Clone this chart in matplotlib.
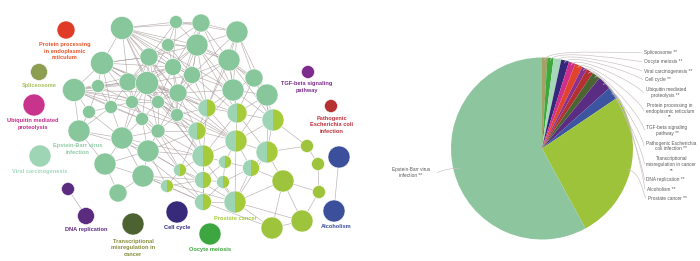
import matplotlib
matplotlib.use("Agg")
import matplotlib.pyplot as plt
from matplotlib.patches import Circle, Wedge
from matplotlib.path import Path
from matplotlib.patches import PathPatch
import numpy as np

# ---------------- network data (pixel positions) ----------------
node_x = [122,176,201,237,168,197,149,229,102,173,192,254,74,98,128,147,233,267,178,132,158,111,89,177,142,79,122,158,105,148,143,118,
          207,237,273,197,236,203,267,180,225,251,203,223,167,203,235,
          307,318,283,319,302,272,
          66,39,34,40,308,331,68,86,133,177,210,339,334]
node_y = [28,22,23,32,45,45,57,60,63,67,75,78,90,86,82,83,90,95,93,102,102,107,112,115,119,131,138,131,164,151,176,193,
          108,113,120,131,141,156,152,170,162,168,180,182,186,202,202,
          146,164,181,192,221,228,
          30,72,105,156,72,106,189,216,224,212,234,157,211]
node_r = [11.5,6.5,9,11,6.5,11,9,11,11.5,8.5,8.5,9,11.5,6.5,9,11.5,11,11,9,6.5,6.5,6.5,6.5,6.5,6.5,11,11,7,11,11,11,9,
          9,10,11,9,11,11,11,6.5,6.5,8.5,8.5,6.5,6.5,8.5,11,
          6.5,6.5,11,6.5,11,11,
          9,8.5,11,11,6.5,6.5,6.5,8.5,11,11,11,11,11]
node_kind = ['ebv']*32 + ['half']*15 + ['prostate']*6 + ['protein','splice','ubiq','viral','tgf','patho','dna','dna','transc','cell','oocyte','alco','alco']

adjacency = {
    0: [1,2,4,5,6,8,9,10,14,15,18,7,16,20,23],
    1: [2,4,5,3,6,9],
    2: [3,5,4,9,7,10,18,16],
    3: [5,7,10,11,16,17,32],
    4: [5,6,9,15,10,14],
    5: [6,7,9,10,15,18,16,11,32,33],
    6: [8,9,14,15,18,19,20,10,23],
    7: [10,11,16,17,18,32,33,34],
    8: [12,13,14,15,19,21,6,9,18,32,20],
    9: [10,14,15,18,20,23,32],
    10: [15,16,18,20,23,32,33],
    11: [16,17,33,34],
    12: [13,14,15,19,21,22,25,20,18,24,35,9],
    13: [14,21,22,35,15],
    14: [15,19,20,21,24,18,36,23],
    15: [18,19,20,23,24,26,27,36,46,32],
    16: [17,18,32,33,34,35],
    17: [33,34,36,38],
    18: [20,23,32,33,35,27,36],
    19: [20,21,24,26,42],
    20: [23,24,27,35,37],
    21: [22,24,25,26],
    22: [25,26],
    23: [27,32,35,37,36],
    24: [26,27,29,45],
    25: [26,28,29],
    26: [27,28,29,30,45,37],
    27: [29,35,37,39],
    28: [29,30,31],
    29: [30,37,39,44,35,46],
    30: [31,44,42,45,46],
    32: [33,35,36,37],
    33: [34,36,38,37],
    34: [36,38,47],
    35: [37,39,36],
    36: [37,38,40,41,46],
    37: [39,40,42,45],
    38: [41,46,49,47],
    39: [42,44],
    40: [42,43,41],
    41: [46,43,49],
    42: [43,44,45],
    43: [45,46],
    44: [45],
    45: [46,52],
    46: [49,51,52],
    47: [48],
    48: [50],
    49: [50,51,52],
    50: [51],
    51: [52],
    59: [60],
    64: [65],
}

kind_colors = {
    'ebv': '#88C69C', 'prostate': '#9DC43C', 'protein': '#DF3B28', 'splice': '#8B9E52',
    'ubiq': '#C8338B', 'viral': '#9DD5B5', 'tgf': '#7D2B8C', 'patho': '#B73131',
    'dna': '#5B2B7F', 'transc': '#4D6131', 'cell': '#372A7B', 'oocyte': '#3EA640', 'alco': '#3C4F9B',
}
half_left = '#9DD4B4'
half_right = '#A6CB3A'

net_labels = ["Protein processing\nin endoplasmic\nreticulum", "Spliceosome", "Ubiquitin mediated\nproteolysis",
              "Epstein-Barr virus\ninfection", "Viral carcinogenesis", "TGF-beta signaling\npathway",
              "Pathogenic\nEscherichia coli\ninfection", "DNA replication", "Transcriptional\nmisregulation in\ncancer",
              "Cell cycle", "Oocyte meiosis", "Prostate cancer", "Alcoholism"]
net_label_x = [65, 39, 33, 78, 40, 307, 332, 86, 133, 177, 210, 235, 336]
net_label_y = [51, 85, 124, 149, 171, 87, 125, 229, 248, 227, 249, 218, 227]
net_label_colors = ['#E8552B', '#A3BE5C', '#C42A86', '#8FCBA5', '#A4D7BA', '#7E2B8E', '#C0303A',
                    '#5C2A80', '#868A3A', '#2E2A80', '#3DA53D', '#A8CC3A', '#3C4FA0']

# ---------------- pie data ----------------
pie_labels = ["Spliceosome **", "Oocyte meiosis **", "Viral carcinogenesis **", "Cell cycle **",
              "Ubiquitin mediated\nproteolysis **", "Protein processing in\nendoplasmic reticulum\n**",
              "TGF-beta signaling\npathway **", "Pathogenic Escherichia\ncoli infection **",
              "Transcriptional\nmisregulation in cancer\n**", "DNA replication **", "Alcoholism **",
              "Prostate cancer **", "Epstein-Barr virus\ninfection **"]
pie_values = [0.95, 1.1, 1.35, 1.4, 1.15, 1.35, 0.9, 1.25, 1.45, 2.45, 2.2, 26.5, 57.9]
pie_colors = ['#A3A264', '#3BAA3B', '#A6D7B9', '#35287A', '#D02E8C', '#E0442B', '#8A3090', '#B53030',
              '#4B6433', '#5A2C82', '#3D54A0', '#9DC33B', '#8CC59E']
pie_label_x = [643.5, 644, 644, 645, 645.5, 646, 646.5, 646, 646.5, 646.5, 647, 648, 411]
pie_label_y = [52.3, 61.7, 71, 80, 93, 111, 130.3, 146, 164.2, 180, 189.3, 198.3, 172.5]

W, H = 700, 261
fig = plt.figure(figsize=(7.0, 2.61), dpi=100)
ax = fig.add_axes([0, 0, 1, 1])
ax.set_xlim(0, W)
ax.set_ylim(H, 0)
ax.axis('off')

# edges
for a, nbrs in adjacency.items():
    for b in nbrs:
        ax.plot([node_x[a], node_x[b]], [node_y[a], node_y[b]], color='#A99B9B', lw=0.45,
                alpha=0.8, zorder=1, solid_capstyle='round')

# nodes
for x, y, r, k in zip(node_x, node_y, node_r, node_kind):
    if k == 'half':
        ax.add_patch(Wedge((x, y), r, 90, 270, facecolor=half_left, edgecolor='none', zorder=2))
        ax.add_patch(Wedge((x, y), r, 270, 90, facecolor=half_right, edgecolor='none', zorder=2))
        ax.add_patch(Circle((x, y), r, facecolor='none', edgecolor='white', lw=0.4, zorder=3))
    else:
        ax.add_patch(Circle((x, y), r, facecolor=kind_colors[k], edgecolor='white', lw=0.4, zorder=2))

for t, x, y, c in zip(net_labels, net_label_x, net_label_y, net_label_colors):
    ax.text(x, y, t, color=c, fontsize=4.1, fontweight='bold', ha='center', va='center',
            family='Liberation Sans', linespacing=1.35, zorder=4)

# pie
cx, cy, R = 542, 148.5, 91
pax = fig.add_axes([(cx - R) / W, (H - cy - R) / H, 2 * R / W, 2 * R / H])
wedges, _ = pax.pie(pie_values, colors=pie_colors, startangle=90, counterclock=False,
                    radius=1, wedgeprops=dict(edgecolor='none', linewidth=0))
pax.set_xlim(-1, 1)
pax.set_ylim(-1, 1)
pax.set_aspect('auto')
pax.axis('off')

def to_u(px, py):
    return (px - cx) / R, (cy - py) / R

for w, lab, lx, ly in zip(wedges, pie_labels, pie_label_x, pie_label_y):
    mid = np.deg2rad((w.theta1 + w.theta2) / 2)
    dx, dy = np.cos(mid), np.sin(mid)
    if lab.startswith("Epstein"):
        s = to_u(461, 169)
        e = to_u(437, 172.7)
        path = Path([s, ((s[0] + e[0]) / 2, s[1] + 0.02), e], [Path.MOVETO, Path.CURVE3, Path.CURVE3])
        pax.add_patch(PathPatch(path, fc='none', ec='#C9BFBF', lw=0.45, clip_on=False))
        tx, ty = to_u(lx, ly)
        pax.text(tx, ty, lab, fontsize=3.4, ha='center', va='center', color='#595959',
                 family='Liberation Sans', linespacing=1.25, clip_on=False)
        continue
    s = (0.97 * dx, 0.97 * dy)
    ex, ey = to_u(lx - 2, ly)
    p1 = (s[0] + 0.15 * dx, s[1] + 0.15 * dy)
    p2 = (ex - 0.05, ey + 0.3 * (s[1] - ey))
    path = Path([s, p1, p2, (ex, ey)], [Path.MOVETO, Path.CURVE4, Path.CURVE4, Path.CURVE4])
    pax.add_patch(PathPatch(path, fc='none', ec='#C9BFBF', lw=0.45, clip_on=False))
    tx, ty = to_u(lx, ly)
    pax.text(tx, ty, lab, fontsize=3.4, ha='left', va='center', color='#595959',
             family='Liberation Sans', linespacing=1.25, multialignment='center', clip_on=False)

fig.savefig("out.png", dpi=100)
